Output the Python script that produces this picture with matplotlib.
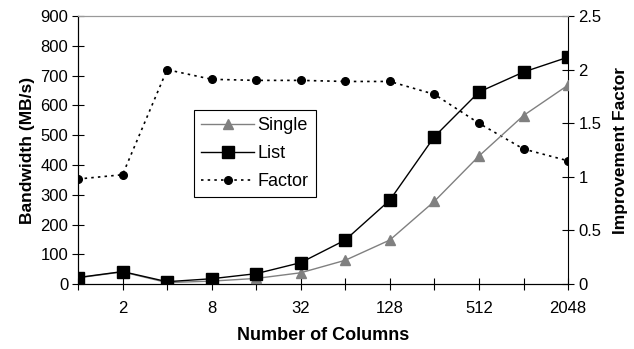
import numpy as np
import matplotlib.pyplot as plt

plt.rcParams["font.family"] = ["Liberation Sans", "DejaVu Sans"]

""" Data read from the picture """

columns = [1, 2, 4, 8, 16, 32, 64, 128, 256, 512, 1024, 2048]
single = [21, 41, 5, 10, 19, 38, 80, 148, 278, 430, 566, 668]
list_bw = [22, 42, 8, 18, 35, 72, 148, 282, 495, 645, 712, 762]
factor = [0.98, 1.02, 2.0, 1.91, 1.90, 1.90, 1.89, 1.89, 1.77, 1.50, 1.26, 1.15]

shown_labels = ["" if i % 2 == 0 else str(c) for i, c in enumerate(columns)]

""" Plot """

fig = plt.figure(figsize=(6.34, 3.49), dpi=100)
ax = fig.add_axes([0.123, 0.186, 0.773, 0.768])
ax2 = ax.twinx()

x = np.arange(len(columns))

l1, = ax.plot(x, single, "-", color="#808080", lw=1.0, marker="^",
              markersize=7, markerfacecolor="#808080", markeredgecolor="#808080",
              label="Single", zorder=3)
l2, = ax.plot(x, list_bw, "-", color="black", lw=1.0, marker="s",
              markersize=9, markerfacecolor="black", label="List", zorder=4)
l3, = ax2.plot(x, factor, linestyle=(0, (1.5, 2.5)), color="black", lw=1.2,
               marker="o", markersize=5.5, label="Factor")

ax.set_xlim(0, len(columns) - 1)
ax.set_ylim(0, 900)
ax2.set_ylim(0, 2.5)
ax.set_yticks(np.arange(0, 901, 100))
ax2.set_yticks([0, 0.5, 1, 1.5, 2, 2.5])
ax2.set_yticklabels(["0", "0.5", "1", "1.5", "2", "2.5"])
ax.set_xticks(x)
ax.set_xticklabels(shown_labels)

for a in (ax, ax2):
    a.tick_params(direction="inout", length=8, width=0.8, labelsize=12)
    a.spines["top"].set_color("#999999")
ax.tick_params(axis="x", pad=8)
ax.tick_params(axis="y", pad=3)
ax.spines["right"].set_visible(False)

ax.set_xlabel("Number of Columns", fontsize=13, fontweight="bold", labelpad=8)
ax.set_ylabel("Bandwidth (MB/s)", fontsize=12.5, fontweight="bold", labelpad=4)
ax2.set_ylabel("Improvement Factor", fontsize=12.5, fontweight="bold", labelpad=8)

leg = ax.legend([l1, l2, l3], ["Single", "List", "Factor"], loc="upper left",
                bbox_to_anchor=(0.237, 0.649), fancybox=False, framealpha=1,
                edgecolor="black", fontsize=13, handlelength=2.9,
                handletextpad=0.2, borderpad=0.4, labelspacing=0.6,
                borderaxespad=0)
leg.get_frame().set_linewidth(0.8)
ax.set_zorder(ax2.get_zorder() + 1)
ax.patch.set_visible(False)

plt.savefig("out.png", dpi=100)
